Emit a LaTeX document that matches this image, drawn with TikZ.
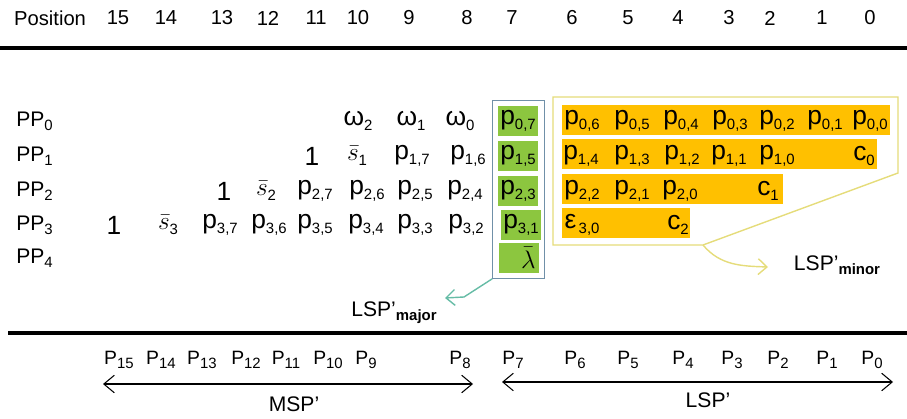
\documentclass[tikz,border=0pt]{standalone}
\usepackage{fontspec}
\setmainfont{Liberation Sans}
\usetikzlibrary{arrows.meta,fit}

\definecolor{cellgreen}{HTML}{8CC63F}
\definecolor{boxgreen}{HTML}{7090A8}
\definecolor{bargold}{HTML}{FFC000}
\definecolor{paleyellow}{HTML}{E5DC7A}
\definecolor{tealline}{HTML}{66BCA6}

\newcommand{\lowix}[1]{\raisebox{-.35ex}{\fontsize{8.5}{9}\selectfont #1}}
\newcommand{\pe}[2]{p\lowix{#1,#2}}

\begin{document}
\begin{tikzpicture}[
  x=0.02cm, y=-0.02cm,
  font=\fontsize{11.5}{13}\selectfont,
  head/.style={inner sep=1pt},
  rowlab/.style={anchor=west, inner sep=0pt, font=\fontsize{12}{14}\selectfont},
  ent/.style={inner sep=0pt, font=\fontsize{15}{17}\selectfont},
  gcell/.style={fill=cellgreen, minimum width=0.8cm, minimum height=0.6cm, inner sep=0pt, font=\fontsize{15}{17}\selectfont},
  obar/.style={fill=bargold, anchor=west, minimum height=0.6cm, inner sep=0pt},
  gbox/.style={draw=boxgreen, semithick, inner xsep=0.1cm, inner ysep=0.1cm},
  rule/.style={line width=2.3pt},
  gconn/.style={-{Straight Barb[length=5pt,width=9pt]}, draw=tealline, thick},
  yconn/.style={-{Straight Barb[length=5pt,width=9pt]}, draw=paleyellow, thick},
  span/.style={{Straight Barb[length=6pt,width=10pt]}-{Straight Barb[length=6pt,width=10pt]}, semithick},
  bitlab/.style={inner sep=1pt, font=\fontsize{11}{13}\selectfont},
  side/.style={inner sep=1pt, font=\fontsize{12}{14}\selectfont}
]
\useasboundingbox (0,0) rectangle (907,419);

% column numbers
\node[head, anchor=west] (pos) at (12,18) {Position};
\foreach \n/\x in {15/118,14/166,13/222,12/268,11/316,10/358,9/409,8/467,7/512,6/572,5/628,4/678,3/729,2/770,1/822,0/870}
  \node[head] (h\n) at (\x,18) {\n};
\draw[rule] (0,48) -- (907,48);

% row labels
\node[rowlab] (pp0) at (16,121) {PP\lowix{0}};
\node[rowlab] (pp1) at (16,156) {PP\lowix{1}};
\node[rowlab] (pp2) at (16,191) {PP\lowix{2}};
\node[rowlab] (pp3) at (16,225) {PP\lowix{3}};
\node[rowlab] (pp4) at (16,258) {PP\lowix{4}};

% PP0
\node[ent] (w2) at (358,121) {ω\lowix{2}};
\node[ent] (w1) at (411,121) {ω\lowix{1}};
\node[ent] (w0) at (460,121) {ω\lowix{0}};
% PP1
\node[ent] (one1) at (312,156) {1};
\node[ent] (s1) at (357,156) {$\bar{s}$\lowix{1}};
\node[ent] (p17) at (412,156) {\pe{1}{7}};
\node[ent] (p16) at (468,156) {\pe{1}{6}};
% PP2
\node[ent] (one2) at (224,191) {1};
\node[ent] (s2) at (266,191) {$\bar{s}$\lowix{2}};
\node[ent] (p27) at (315,191) {\pe{2}{7}};
\node[ent] (p26) at (367,191) {\pe{2}{6}};
\node[ent] (p25) at (415,191) {\pe{2}{5}};
\node[ent] (p24) at (465,191) {\pe{2}{4}};
% PP3
\node[ent] (one3) at (114,225) {1};
\node[ent] (s3) at (168,225) {$\bar{s}$\lowix{3}};
\node[ent] (p37) at (220,225) {\pe{3}{7}};
\node[ent] (p36) at (269,225) {\pe{3}{6}};
\node[ent] (p35) at (315,225) {\pe{3}{5}};
\node[ent] (p34) at (366,225) {\pe{3}{4}};
\node[ent] (p33) at (415,225) {\pe{3}{3}};
\node[ent] (p32) at (466,225) {\pe{3}{2}};

% green column
\node[gcell] (g0) at (518,121) {\pe{0}{7}};
\node[gcell] (g1) at (518,156) {\pe{1}{5}};
\node[gcell] (g2) at (518,191) {\pe{2}{3}};
\node[gcell] (g3) at (521,225) {\pe{3}{1}};
\node[gcell, text width=0.66cm, align=right] (g4) at (519,258) {$\bar{\lambda}$};
\node[gbox, fit=(g0)(g4)] (major) {};

% orange bars
\node[obar, minimum width=6.56cm] (bar0) at (562,120) {};
\node[obar, minimum width=6.3cm] (bar1) at (562,154) {};
\node[obar, minimum width=4.42cm] (bar2) at (562,189) {};
\node[obar, minimum width=2.56cm] (bar3) at (562,223) {};

\node[ent] (p06) at (582,121) {\pe{0}{6}};
\node[ent] (p05) at (632,121) {\pe{0}{5}};
\node[ent] (p04) at (681,121) {\pe{0}{4}};
\node[ent] (p03) at (730,121) {\pe{0}{3}};
\node[ent] (p02) at (777,121) {\pe{0}{2}};
\node[ent] (p01) at (825,121) {\pe{0}{1}};
\node[ent] (p00) at (870,121) {\pe{0}{0}};

\node[ent] (p14) at (581,156) {\pe{1}{4}};
\node[ent] (p13) at (632,156) {\pe{1}{3}};
\node[ent] (p12) at (682,156) {\pe{1}{2}};
\node[ent] (p11) at (729,156) {\pe{1}{1}};
\node[ent] (p10) at (777,156) {\pe{1}{0}};
\node[ent] (c0) at (864,156) {c\lowix{0}};

\node[ent] (p22) at (582,191) {\pe{2}{2}};
\node[ent] (p21) at (632,191) {\pe{2}{1}};
\node[ent] (p20) at (680,191) {\pe{2}{0}};
\node[ent] (c1) at (768,191) {c\lowix{1}};

\node[ent] (e30) at (582,225) {ε\lowix{\,3,0}};
\node[ent] (c2) at (678,225) {c\lowix{2}};

% minor outline
\coordinate (ycorner) at (703,245);
\draw[paleyellow, thick] (553,97) -- (898,97) -- (898,173) -- (ycorner) -- (553,245) -- cycle;

% callouts
\node[side] (majlab) at (394,313) {LSP'\lowix{\textbf{major}}};
\coordinate (majbend) at (464,297);
\coordinate (majtip) at (445,298);
\draw[gconn] (major.south west) -- (majbend) -- (majtip);

\node[side] (minlab) at (837,265) {LSP'\lowix{\textbf{minor}}};
\coordinate (mintip) at (768,267);
\draw[yconn] (ycorner) to[out=-50, in=178] (mintip);

\draw[rule] (8,333) -- (907,333);

% bit positions
\foreach \n/\x in {15/119,14/161,13/202,12/246,11/286,10/328,9/366,8/460,7/513,6/575,5/628,4/683,3/732,2/778,1/827,0/872}
  \node[bitlab] (b\n) at (\x,360) {P\lowix{\n}};

\coordinate (mspl) at (103,384);
\coordinate (mspr) at (473,384);
\coordinate (lspl) at (502,382);
\coordinate (lspr) at (893,382);
\draw[span] (mspl) -- (mspr);
\draw[span] (lspl) -- (lspr);
\node[side] (msp) at (294,404) {MSP'};
\node[side] (lsp) at (708,400) {LSP'};

\end{tikzpicture}
\end{document}
